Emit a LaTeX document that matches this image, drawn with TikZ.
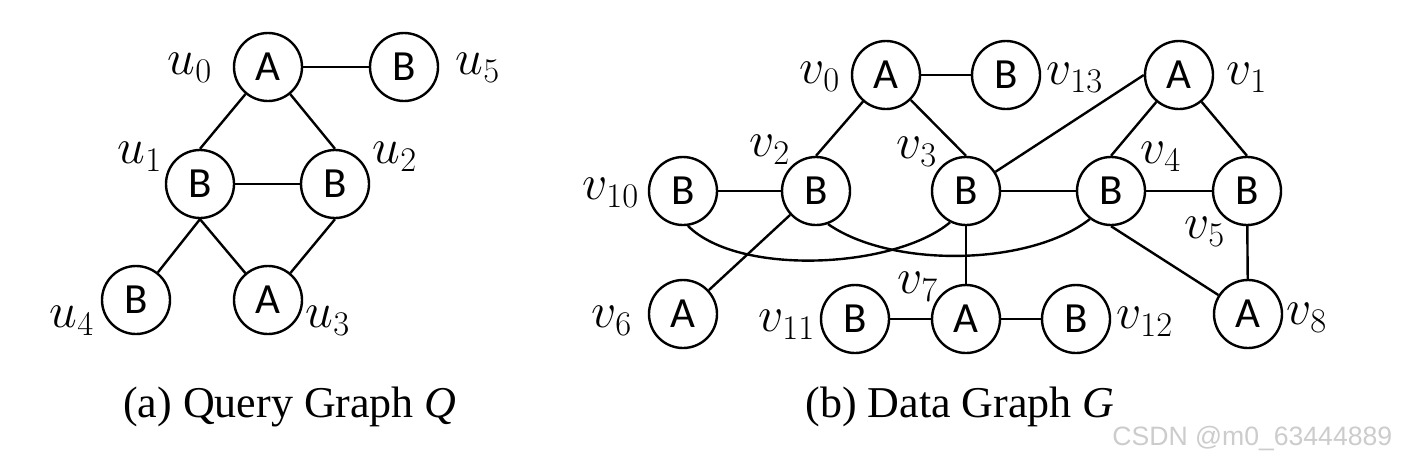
\documentclass[tikz,border=0pt]{standalone}
\usepackage{fontspec}
\setmainfont{Liberation Serif}
\newfontfamily\nodefont{Carlito}
\newfontfamily\wmfont{Liberation Sans}
\begin{document}
\begin{tikzpicture}[x=0.5pt,y=-0.5pt,
  vtx/.style={circle,draw,line width=1.2pt,minimum size=34pt,inner sep=0pt,font=\nodefont\fontsize{21.5}{23}\selectfont},
  lbl/.style={inner sep=0pt,font=\fontsize{23}{25}\selectfont},
  edge/.style={line width=1.2pt},
  caption/.style={inner sep=0pt,anchor=base,font=\fontsize{22}{24}\selectfont}]
\useasboundingbox (0,0) rectangle (1402,462);
% ---------- Query graph Q ----------
\node[vtx] (u0) at (268,67) {A};
\node[vtx] (u5) at (404,67) {B};
\node[vtx] (u1) at (200,184) {B};
\node[vtx] (u2) at (335,184) {B};
\node[vtx] (u4) at (136,300) {B};
\node[vtx] (u3) at (268,300) {A};
\node[lbl] (lu0) at (190,68) {$u_0$};
\node[lbl] (lu5) at (478,68) {$u_5$};
\node[lbl] (lu1) at (140,157) {$u_1$};
\node[lbl] (lu2) at (395,157) {$u_2$};
\node[lbl] (lu4) at (72,321) {$u_4$};
\node[lbl] (lu3) at (328,321) {$u_3$};
\draw[edge] (u0) -- (u5);
\draw[edge] (u0) -- (u1.north);
\draw[edge] (u0) -- (u2.north);
\draw[edge] (u1) -- (u2);
\draw[edge] (u1.south) -- (u4);
\draw[edge] (u1.south) -- (u3);
\draw[edge] (u2.south) -- (u3);
% ---------- Data graph G ----------
\node[vtx] (v0) at (886,75) {A};
\node[vtx] (v13) at (1006,75) {B};
\node[vtx] (v1) at (1179,75) {A};
\node[vtx] (v10) at (683,191) {B};
\node[vtx] (v2) at (816,191) {B};
\node[vtx] (v3) at (966,191) {B};
\node[vtx] (v4) at (1111,191) {B};
\node[vtx] (v5) at (1247,191) {B};
\node[vtx] (v6) at (683,314) {A};
\node[vtx] (v11) at (855,319) {B};
\node[vtx] (v7) at (966,319) {A};
\node[vtx] (v12) at (1076,319) {B};
\node[vtx] (v8) at (1248,314) {A};
\node[lbl] (lv0) at (820,77) {$v_0$};
\node[lbl] (lv13) at (1075,78) {$v_{13}$};
\node[lbl] (lv1) at (1247,78) {$v_1$};
\node[lbl] (lv2) at (770,150) {$v_2$};
\node[lbl] (lv3) at (917,152) {$v_3$};
\node[lbl] (lv4) at (1161,157) {$v_4$};
\node[lbl] (lv10) at (611,193) {$v_{10}$};
\node[lbl] (lv5) at (1205,232) {$v_5$};
\node[lbl] (lv6) at (612,321) {$v_6$};
\node[lbl] (lv11) at (787,325) {$v_{11}$};
\node[lbl] (lv7) at (918,287) {$v_7$};
\node[lbl] (lv12) at (1145,322) {$v_{12}$};
\node[lbl] (lv8) at (1307,318) {$v_8$};
\draw[edge] (v0) -- (v13);
\draw[edge] (v0) -- (v2.north);
\draw[edge] (v0) -- (v3.north);
\draw[edge] (v3) -- (v1.west);
\draw[edge] (v1) -- (v4.north);
\draw[edge] (v1) -- (v5.north);
\draw[edge] (v10) -- (v2);
\draw[edge] (v3) -- (v4);
\draw[edge] (v4) -- (v5);
\draw[edge] (v2) -- (v6);
\draw[edge] (v3) -- (v7);
\draw[edge] (v11) -- (v7);
\draw[edge] (v7) -- (v12);
\draw[edge] (v5) -- (v8);
\draw[edge] (v4.south) -- (v8);
\draw[edge] (v10.-82) to[out=-45,in=-140,looseness=0.7] (v3.-117);
\draw[edge] (v2.-70) to[out=-35,in=-142,looseness=0.75] (v4.-127);
% ---------- captions ----------
\node[caption] (capa) at (290,417) {(a) Query Graph \textit{Q}};
\node[caption] (capb) at (960,417) {(b) Data Graph \textit{G}};
\node[inner sep=0pt,anchor=base west,text=black!20,font=\wmfont\fontsize{13.3}{15}\selectfont] (wm) at (1112,445) {CSDN @m0\_63444889};
\end{tikzpicture}
\end{document}
